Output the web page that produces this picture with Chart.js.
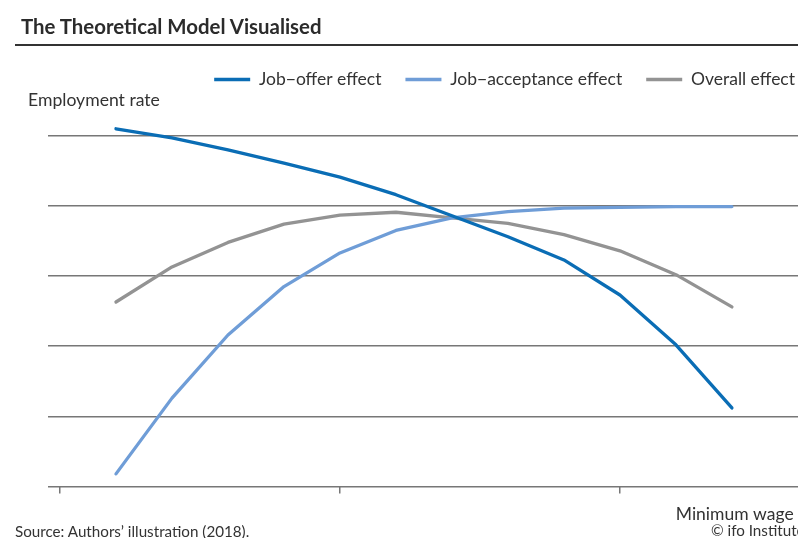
<!DOCTYPE html>
<html>
<head>
<meta charset="utf-8">
<script src="https://cdn.jsdelivr.net/npm/chart.js@4.4.1/dist/chart.umd.min.js"></script>
<style>
  html, body { margin: 0; padding: 0; background: #fff; }
  body { width: 798px; height: 538px; position: relative; overflow: hidden; font-family: Lato, "Noto Sans", sans-serif; color: #333; }
  #title { position: absolute; left: 21px; top: 14px; font-size: 20.4px; font-weight: bold; color: #2b2b2b; }
  #rule { position: absolute; left: 15px; top: 44px; width: 783px; height: 2px; background: #333; }
  #ylabel { position: absolute; left: 28px; top: 89px; font-size: 17.6px; }
  #source { position: absolute; left: 15px; top: 523px; font-size: 15.2px; line-height: 17px; }
  #ifo { position: absolute; left: 711px; top: 522px; font-size: 15.2px; line-height: 17px; white-space: nowrap; }
  #wrap { position: absolute; left: 0; top: 0; width: 798px; height: 538px; }
</style>
</head>
<body>
<div id="wrap"><canvas id="modelChart" width="798" height="538"></canvas></div>
<div id="title">The Theoretical Model Visualised</div>
<div id="rule"></div>
<div id="ylabel">Employment rate</div>
<div id="source">Source: Authors’ illustration (2018).</div>
<div id="ifo">© ifo Institute</div>
<script>
// minimum wage steps (x) and employment rate (y)
const wageSteps = [1, 2, 3, 4, 5, 6, 7, 8, 9, 10, 11, 12];
const jobOffer = [5.10, 4.97, 4.80, 4.61, 4.41, 4.16, 3.86, 3.56, 3.23, 2.73, 2.02, 1.12];
const jobAcceptance = [0.18, 1.26, 2.16, 2.85, 3.33, 3.65, 3.83, 3.92, 3.97, 3.98, 3.99, 3.99];
const overall = [2.63, 3.13, 3.48, 3.74, 3.87, 3.91, 3.83, 3.75, 3.59, 3.36, 3.02, 2.56];
const xTicks = [0, 5, 10];
const yTicks = [0, 1, 2, 3, 4, 5];

const toPoints = (values) => values.map((v, i) => ({ x: wageSteps[i], y: v }));

// push the legend a little to the right so its last label ends near the edge
const legendShift = {
    id: 'legendShift',
    beforeDraw(chart) {
        if (chart.legend && !chart.legend._shifted) {
            chart.legend.left += 21;
            chart.legend.right += 21;
            chart.legend._shifted = true;
        }
    }
};

document.addEventListener('DOMContentLoaded', function () {
    const ctx = document.getElementById('modelChart').getContext('2d');
    new Chart(ctx, {
        type: 'line',
        data: {
            datasets: [{
                label: 'Job−offer effect',
                data: toPoints(jobOffer),
                borderColor: '#0a6db5',
                backgroundColor: '#0a6db5',
                borderWidth: 3.3
            }, {
                label: 'Job−acceptance effect',
                data: toPoints(jobAcceptance),
                borderColor: '#6f9dd7',
                backgroundColor: '#6f9dd7',
                borderWidth: 3.3
            }, {
                label: 'Overall effect',
                data: toPoints(overall),
                borderColor: '#939393',
                backgroundColor: '#939393',
                borderWidth: 3.3
            }]
        },
        options: {
            responsive: false,
            animation: false,
            devicePixelRatio: 1,
            layout: { padding: { top: 46.75, left: 48, right: 0, bottom: 13.5 } },
            elements: {
                line: { tension: 0, borderCapStyle: 'round', borderJoinStyle: 'round' },
                point: { radius: 0 }
            },
            plugins: {
                tooltip: { enabled: false },
                legend: {
                    position: 'top',
                    align: 'end',
                    labels: {
                        usePointStyle: true,
                        pointStyle: 'line',
                        pointStyleWidth: 36,
                        padding: 24,
                        color: '#333',
                        font: { family: 'Lato', size: 17.5 }
                    }
                }
            },
            scales: {
                x: {
                    type: 'linear',
                    min: -0.214,
                    max: 13.18,
                    afterBuildTicks: (scale) => { scale.ticks = xTicks.map(v => ({ value: v })); },
                    ticks: { display: false },
                    border: { display: false },
                    grid: { drawOnChartArea: false, drawTicks: true, tickLength: 7, color: '#777', lineWidth: 1.5 },
                    title: {
                        display: true,
                        text: 'Minimum wage\u2009\u2009',
                        align: 'end',
                        color: '#333',
                        font: { family: 'Lato', size: 17.5 },
                        padding: { top: 10, bottom: 0 }
                    }
                },
                y: {
                    min: 0,
                    max: 5.535,
                    afterBuildTicks: (scale) => { scale.ticks = yTicks.map(v => ({ value: v })); },
                    ticks: { display: false },
                    border: { display: false },
                    grid: { drawTicks: false, color: '#777', lineWidth: 1.5 }
                }
            }
        },
        plugins: [legendShift]
    });
});
</script>
</body>
</html>
